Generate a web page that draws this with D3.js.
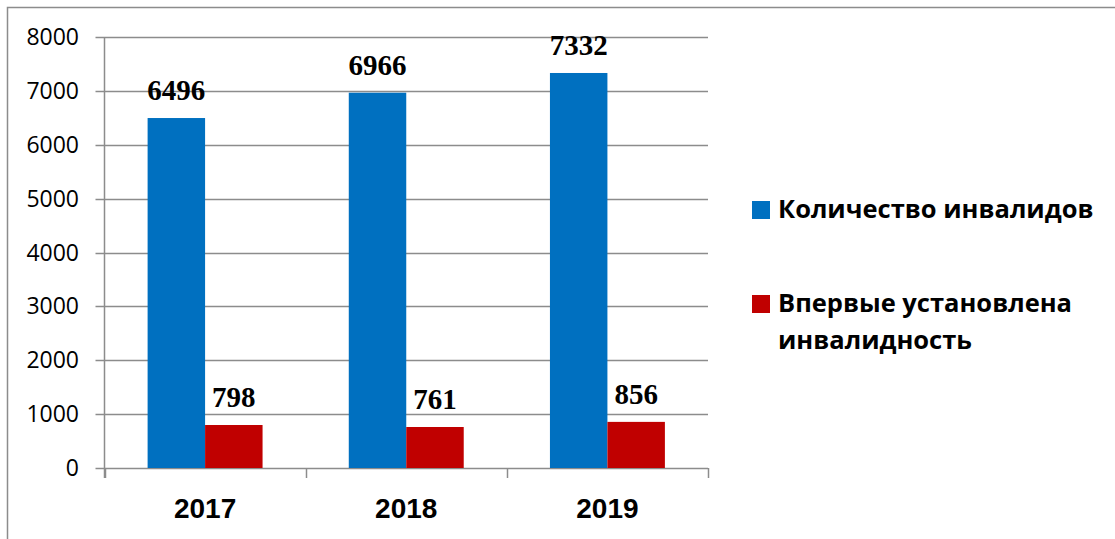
<!DOCTYPE html>
<html>
<head>
<meta charset="utf-8">
<script src="https://cdn.jsdelivr.net/npm/d3@7"></script>
<style>
  html, body { margin: 0; padding: 0; background: #fff; }
  svg { display: block; }
</style>
</head>
<body>
<svg id="chart" width="1115" height="539"></svg>
<script>
// Years shown on the horizontal axis
const categories = ["2017", "2018", "2019"];
// Series names (legend) and their values per year
const seriesNames = ["Количество инвалидов", "Впервые установлена инвалидность"];
const disabledTotal = [6496, 6966, 7332];
const newlyDisabled = [798, 761, 856];
// Vertical axis ticks
const yTicks = [0, 1000, 2000, 3000, 4000, 5000, 6000, 7000, 8000];

const seriesValues = [disabledTotal, newlyDisabled];
const colors = ["#0070C0", "#C00000"];

const svg = d3.select("#chart");
const grid = "#8c8c8c";

// Outer chart frame (left and top edges)
svg.append("path")
  .attr("d", "M7.5,539 V7.5 H1115")
  .attr("fill", "none").attr("stroke", grid).attr("stroke-width", 1.5);

const plot = { left: 104.5, right: 708, top: 37, bottom: 468 };

const y = d3.scaleLinear().domain([0, 8000]).range([plot.bottom, plot.top]);
const x = d3.scaleBand().domain(categories).range([plot.left, plot.right]).paddingInner(0).paddingOuter(0);
// Two bars per category, gap width 150% of one bar
const inner = d3.scaleBand().domain(d3.range(seriesNames.length))
  .range([0, x.bandwidth()]).paddingOuter(0.75).paddingInner(0);

// Horizontal gridlines with short left ticks
svg.append("g").selectAll("line").data(yTicks).join("line")
  .attr("x1", plot.left - 9).attr("x2", plot.right)
  .attr("y1", d => Math.round(y(d)) + 0.5).attr("y2", d => Math.round(y(d)) + 0.5)
  .attr("stroke", grid).attr("stroke-width", 1.5);

// Y tick labels
svg.append("g").selectAll("text").data(yTicks).join("text")
  .attr("x", 79).attr("y", d => y(d) + 8)
  .attr("text-anchor", "end")
  .attr("font-family", "Open Sans, Liberation Sans, Arial, sans-serif")
  .attr("font-size", 23)
  .attr("fill", "#000")
  .text(d => d);

// Bars
const groups = svg.append("g").selectAll("g").data(categories).join("g")
  .attr("transform", c => `translate(${x(c)},0)`);

groups.selectAll("rect")
  .data((c, i) => seriesValues.map((vals, s) => ({ s, v: vals[i] })))
  .join("rect")
  .attr("x", d => inner(d.s))
  .attr("width", inner.bandwidth())
  .attr("y", d => y(d.v))
  .attr("height", d => y(0) - y(d.v))
  .attr("fill", d => colors[d.s]);

// Value labels above each bar
groups.selectAll("text.val")
  .data((c, i) => seriesValues.map((vals, s) => ({ s, v: vals[i] })))
  .join("text")
  .attr("class", "val")
  .attr("x", d => inner(d.s) + inner.bandwidth() / 2)
  .attr("y", d => y(d.v) - 18)
  .attr("text-anchor", "middle")
  .attr("font-family", "Liberation Serif, Times New Roman, serif")
  .attr("font-weight", "bold")
  .attr("font-size", 29)
  .attr("fill", "#000")
  .text(d => d.v);

// Axes lines and category ticks
svg.append("line")
  .attr("x1", plot.left).attr("x2", plot.left)
  .attr("y1", plot.top).attr("y2", plot.bottom + 10)
  .attr("stroke", grid).attr("stroke-width", 1.5);
const bounds = categories.map(c => x(c)).concat([plot.right]);
svg.append("g").selectAll("line").data(bounds).join("line")
  .attr("x1", d => Math.round(d) + 0.5).attr("x2", d => Math.round(d) + 0.5)
  .attr("y1", plot.bottom).attr("y2", plot.bottom + 10)
  .attr("stroke", grid).attr("stroke-width", 1.5);

// Category labels
svg.append("g").selectAll("text").data(categories).join("text")
  .attr("x", c => x(c) + x.bandwidth() / 2)
  .attr("y", 518)
  .attr("text-anchor", "middle")
  .attr("font-family", "Liberation Sans, Arial, sans-serif")
  .attr("font-weight", "bold")
  .attr("font-size", 28)
  .attr("fill", "#000")
  .text(c => c);

// Legend
const legendLines = [["Количество инвалидов"], ["Впервые установлена", "инвалидность"]];
const legendTop = [201, 295];
const legend = svg.append("g").selectAll("g").data(seriesNames).join("g");
legend.append("rect")
  .attr("x", 752).attr("y", (d, i) => legendTop[i])
  .attr("width", 18).attr("height", 18)
  .attr("fill", (d, i) => colors[i]);
legend.append("text")
  .attr("font-family", "Open Sans, Liberation Sans, Arial, sans-serif")
  .attr("font-weight", "bold")
  .attr("font-size", 25.5)
  .attr("fill", "#000")
  .selectAll("tspan")
  .data((d, i) => legendLines[i].map((t, k) => ({ t, k, i })))
  .join("tspan")
  .attr("x", 778)
  .attr("y", d => legendTop[d.i] + 17 + d.k * 37)
  .text(d => d.t);
</script>
</body>
</html>
